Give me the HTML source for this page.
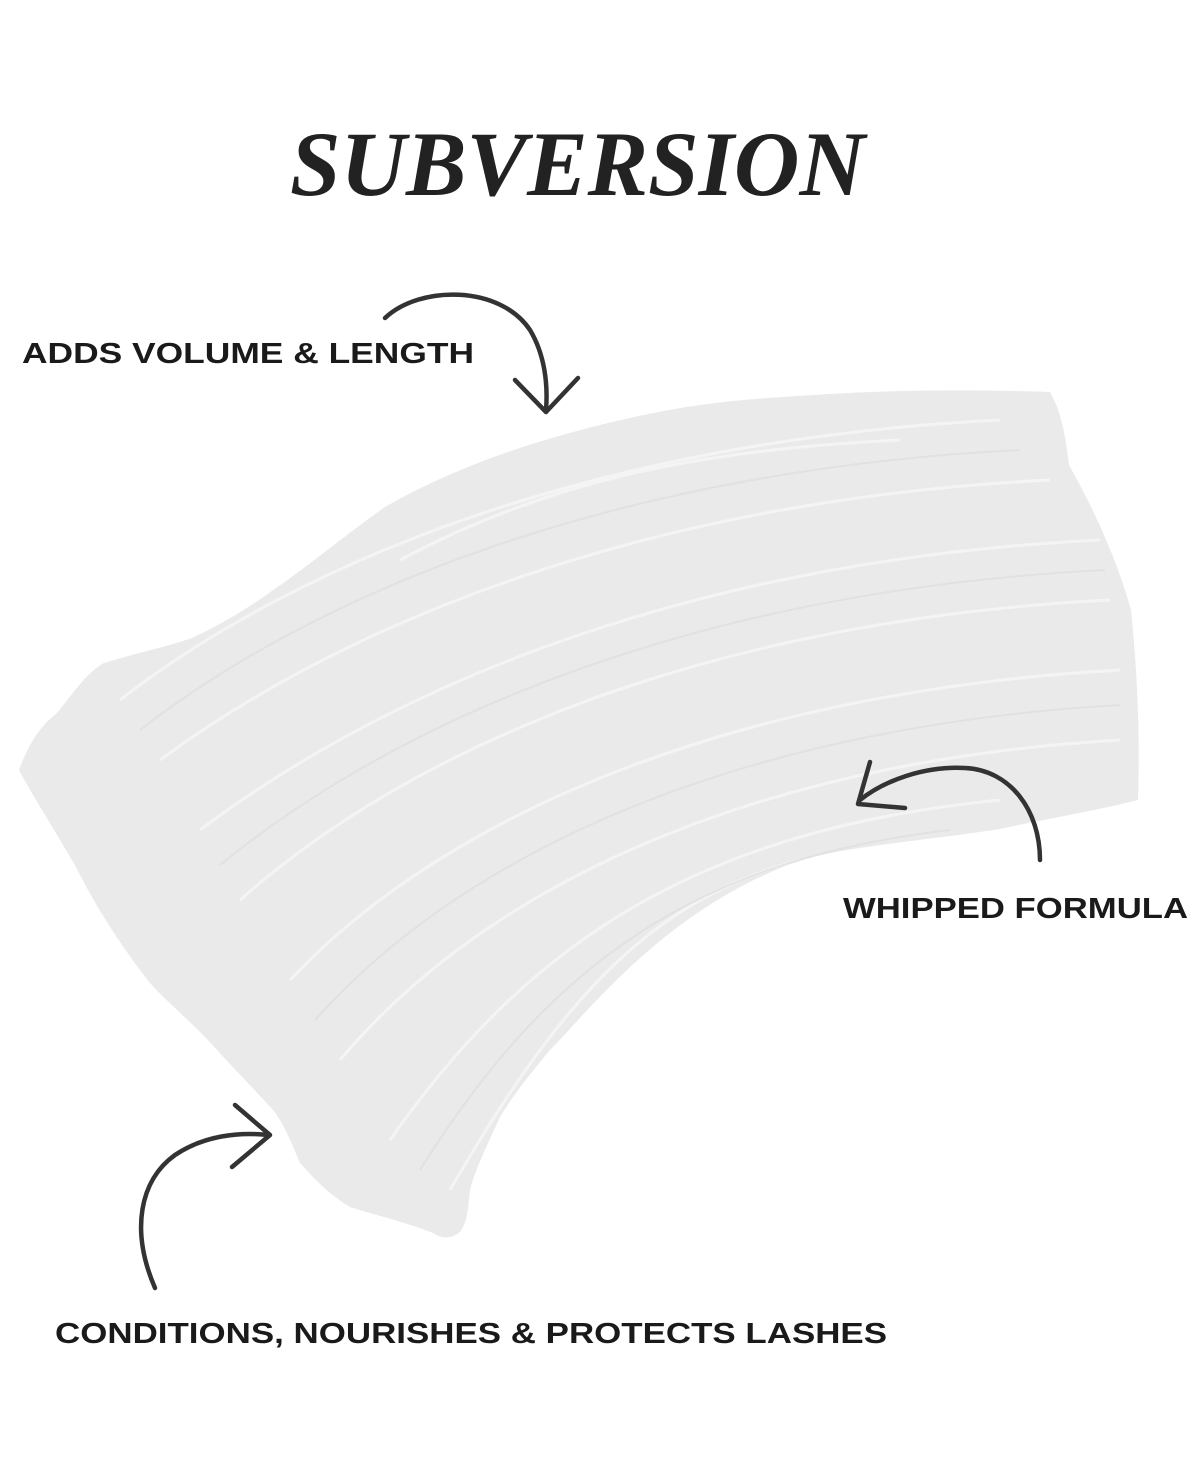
<!DOCTYPE html>
<html><head><meta charset="utf-8"><style>
html,body{margin:0;padding:0;background:#fff;}
svg{display:block;}
</style></head><body>
<svg width="1200" height="1467" viewBox="0 0 1200 1467" xmlns="http://www.w3.org/2000/svg">
<rect width="1200" height="1467" fill="#fff"/>
<path d="M19,770 C30,740 42,725 58,712 C75,690 88,672 104,663 C140,652 170,646 192,638 C220,625 245,610 269,593 C310,565 345,535 385,507 C450,470 520,445 600,425 C660,410 710,402 769,398 C850,392 930,388 1050,392 C1060,410 1065,430 1069,465 C1100,520 1120,570 1131,610 C1138,680 1140,740 1138,800 C1090,812 1040,820 1000,829 C930,840 860,845 808,858 C740,880 680,920 627,970 C590,1005 570,1030 550,1050 C525,1080 510,1100 500,1117 C485,1150 475,1170 470,1190 C468,1210 467,1223 460,1232 C450,1240 440,1238 433,1233 C405,1222 375,1215 350,1207 C330,1195 315,1180 300,1163 C290,1140 285,1125 273,1110 C255,1090 235,1070 217,1050 C195,1025 170,1005 150,983 C120,945 95,905 77,869 C55,830 35,800 19,770 Z" fill="#eaeaea"/>
<g stroke="#f6f6f6" stroke-width="3" fill="none" opacity="0.9">
<path d="M120,700 C300,560 600,440 1000,420"/>
<path d="M160,760 C350,620 650,500 1050,480"/>
<path d="M200,830 C400,680 700,560 1100,540"/>
<path d="M240,900 C420,740 720,620 1110,600"/>
<path d="M290,980 C460,800 760,690 1120,670"/>
<path d="M340,1060 C500,870 780,760 1120,740"/>
<path d="M390,1140 C530,940 700,830 1000,800"/>
<path d="M400,560 C550,480 700,450 900,440"/>
<path d="M450,1190 C560,1000 650,900 800,860"/>
</g>
<g stroke="#dfdfdf" stroke-width="2" fill="none" opacity="0.8">
<path d="M140,730 C320,590 620,470 1020,450"/>
<path d="M220,865 C410,710 710,590 1105,570"/>
<path d="M315,1020 C480,835 770,725 1120,705"/>
<path d="M420,1170 C545,970 690,860 950,830"/>
</g>
<text x="290" y="195" font-family="Liberation Serif, serif" font-style="italic" font-weight="bold" font-size="92" fill="#222" textLength="575" lengthAdjust="spacingAndGlyphs">SUBVERSION</text>
<g font-family="Liberation Sans, sans-serif" font-weight="bold" font-size="29" fill="#1a1a1a">
<text x="22" y="363" textLength="452" lengthAdjust="spacingAndGlyphs">ADDS VOLUME &amp; LENGTH</text>
<text x="843" y="918" textLength="345" lengthAdjust="spacingAndGlyphs">WHIPPED FORMULA</text>
<text x="55" y="1343" textLength="832" lengthAdjust="spacingAndGlyphs">CONDITIONS, NOURISHES &amp; PROTECTS LASHES</text>
</g>
<g stroke="#333" stroke-width="4.5" fill="none" stroke-linecap="round" stroke-linejoin="round">
<path d="M385,318 C420,285 500,285 530,330 C545,355 548,385 546,410"/>
<path d="M515,380 L546,412 L578,378"/>
<path d="M1040,860 C1040,810 1010,770 965,768 C925,766 885,780 860,800"/>
<path d="M870,762 L858,804 L905,808"/>
<path d="M155,1288 C130,1230 140,1180 175,1155 C205,1135 240,1132 268,1135"/>
<path d="M235,1105 L270,1135 L232,1167"/>
</g>
</svg>
</body></html>
